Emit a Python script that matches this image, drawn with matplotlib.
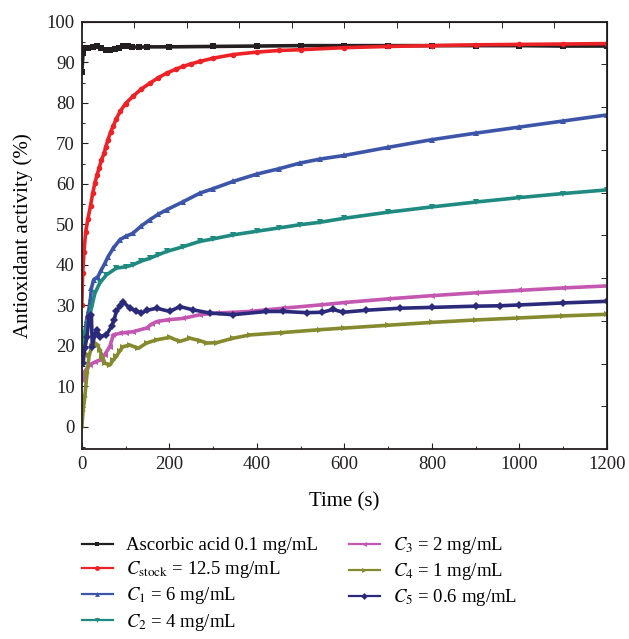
import numpy as np
import matplotlib
matplotlib.use('Agg')
import matplotlib.pyplot as plt
from matplotlib.lines import Line2D

plt.rcParams['font.family'] = ['Liberation Serif', 'DejaVu Serif']
plt.rcParams['mathtext.fontset'] = 'stix'

# data (time in s, activity in %)
t_asc = [0, 3, 8, 15, 25, 35, 45, 55, 65, 75, 85, 95, 105, 115, 130, 150, 200, 300,
         400, 500, 600, 700, 800, 900, 1000, 1100, 1200]
v_asc = [87.5, 92.3, 93.4, 93.6, 93.8, 93.9, 93.5, 93.1, 93.0, 93.2, 93.6, 93.9, 94.0,
         93.8, 93.7, 93.8, 93.8, 93.9, 94.0, 94.1, 94.1, 94.1, 94.1, 94.1, 94.1, 94.0, 94.0]

t_stock = [0, 2, 5, 9, 14, 20, 25, 30, 35, 40, 45, 51, 55, 60, 66, 72, 79, 88, 100, 117,
           135, 155, 175, 194, 215, 232, 250, 270, 300, 346, 400, 450, 500, 600, 700,
           800, 900, 1000, 1100, 1200]
v_stock = [30.0, 38.0, 43.2, 48.2, 51.3, 54.6, 57.7, 60.2, 62.2, 64.0, 65.9, 67.5, 69.2,
           70.9, 72.8, 74.3, 76.1, 77.9, 79.8, 81.6, 83.3, 84.8, 86.2, 87.3, 88.3, 89.0,
           89.6, 90.2, 91.0, 91.9, 92.5, 92.9, 93.1, 93.6, 93.9, 94.1, 94.3, 94.4, 94.5, 94.6]

t_c1 = [0, 4, 7, 11, 16, 20, 22, 27, 37, 45, 53, 60, 72, 87, 100, 117, 135, 155, 175,
        194, 232, 270, 300, 346, 400, 450, 498, 544, 600, 700, 800, 900, 1000, 1100, 1200]
v_c1 = [20.5, 22.5, 23.5, 26.4, 28.9, 31.8, 34.2, 36.3, 37.1, 38.8, 40.4, 42.0, 44.1,
        46.2, 47.0, 47.8, 49.5, 51.1, 52.5, 53.6, 55.6, 57.7, 58.8, 60.6, 62.4, 63.7,
        65.1, 66.1, 67.0, 69.0, 70.9, 72.5, 74.0, 75.5, 77.0]

t_c2 = [0, 3, 7, 14, 22, 30, 41, 56, 79, 100, 117, 135, 155, 175, 194, 232, 270, 300,
        346, 400, 450, 498, 544, 600, 700, 800, 900, 1000, 1100, 1200]
v_c2 = [17.0, 19.8, 23.2, 25.6, 29.3, 33.0, 35.5, 37.5, 39.2, 39.5, 40.0, 40.9, 41.6,
        42.5, 43.3, 44.5, 45.8, 46.4, 47.4, 48.3, 49.1, 49.9, 50.5, 51.5, 53.0, 54.3,
        55.5, 56.6, 57.6, 58.5]

t_c3 = [0, 2, 7, 18, 30, 41, 52, 64, 72, 87, 100, 117, 148, 160, 171, 194, 232, 270,
        308, 384, 460, 544, 600, 700, 800, 900, 1000, 1100, 1200]
v_c3 = [11.5, 12.0, 13.7, 15.3, 16.0, 16.5, 17.8, 19.8, 22.7, 23.1, 23.3, 23.5, 24.4,
        25.4, 26.0, 26.4, 26.8, 27.7, 28.1, 28.5, 29.3, 30.1, 30.7, 31.6, 32.4, 33.1,
        33.7, 34.3, 34.8]

t_c4 = [0, 3, 7, 12, 17, 24, 30, 36, 41, 47, 53, 64, 72, 79, 87, 94, 110, 129, 148, 171,
        201, 224, 247, 270, 285, 308, 346, 384, 460, 544, 600, 700, 800, 900, 1000, 1100, 1200]
v_c4 = [0.0, 4.0, 7.5, 13.2, 17.8, 20.0, 20.7, 20.2, 19.0, 17.3, 15.7, 15.3, 16.5, 17.4,
        18.8, 19.8, 20.2, 19.4, 20.7, 21.5, 22.1, 21.1, 21.9, 21.3, 20.7, 20.8, 21.9, 22.7,
        23.3, 24.0, 24.4, 25.1, 25.8, 26.4, 26.9, 27.4, 27.8]

t_c5 = [0, 3, 7, 12, 17, 22, 24, 29, 34, 41, 56, 68, 74, 79, 87, 94, 110, 125, 136, 150,
        171, 201, 224, 254, 293, 346, 422, 460, 514, 550, 574, 597, 650, 727, 800, 900,
        955, 1000, 1100, 1200]
v_c5 = [15.5, 15.7, 19.4, 22.3, 27.2, 27.7, 19.8, 22.5, 24.0, 22.3, 22.7, 24.8, 26.5,
        28.5, 29.8, 30.9, 29.3, 28.6, 28.1, 28.8, 29.3, 28.5, 29.7, 28.9, 28.1, 27.7,
        28.5, 28.5, 28.2, 28.3, 29.0, 28.3, 28.8, 29.3, 29.5, 29.8, 29.9, 30.1, 30.6, 31.0]

labels = ['Ascorbic acid 0.1 mg/mL',
          r'$C_{\mathrm{stock}}$ = 12.5 mg/mL',
          r'$C_1$ = 6 mg/mL',
          r'$C_2$ = 4 mg/mL',
          r'$C_3$ = 2 mg/mL',
          r'$C_4$ = 1 mg/mL',
          r'$C_5$ = 0.6 mg/mL']
series = [(t_asc, v_asc), (t_stock, v_stock), (t_c1, v_c1), (t_c2, v_c2),
          (t_c3, v_c3), (t_c4, v_c4), (t_c5, v_c5)]
colors = ['#231f20', '#ec2227', '#3d55a8', '#1e8a80', '#c457b0', '#868a2e', '#2b2a7a']
markers = ['s', 'o', '^', 'v', '<', '>', 'D']

fig = plt.figure(figsize=(6.29, 6.39), dpi=100)
ax = fig.add_axes([0.130, 0.297, 0.835, 0.669])

for (t, v), c, m in zip(series, colors, markers):
    ax.plot(t, v, color=c, lw=2.6, marker=m, ms=4, mew=0, solid_joinstyle='round')

ax.set_xlim(0, 1200)
ax.set_ylim(-5.5, 100)
ax.set_xticks(np.arange(0, 1201, 200))
ax.set_xticks(np.arange(0, 1201, 100), minor=True)
ax.set_yticks(np.arange(0, 101, 10))
ax.set_yticks(np.arange(-5, 101, 5), minor=True)
ax.tick_params(direction='in', labelsize=13.5, length=4, width=0.8, colors='#231f20', pad=5)
ax.tick_params(which='minor', direction='in', length=2.5, width=0.6)
for s in ax.spines.values():
    s.set_linewidth(1.3)
    s.set_color('#231f20')

top = ax.secondary_xaxis('top')
top.set_xticks(np.linspace(0, 1200, 11))
top.set_xticklabels([])
top.tick_params(direction='in', length=4, width=0.6)
right = ax.secondary_yaxis('right')
right.set_yticks(np.linspace(-5.5, 100, 11))
right.set_yticklabels([])
right.tick_params(direction='in', length=4, width=0.6)

ax.set_xlabel('Time (s)', fontsize=15, labelpad=14)
ax.set_ylabel('Antioxidant activity (%)', fontsize=15, labelpad=10)

handles = [Line2D([], [], color=c, lw=1.6, marker=m, ms=3.5, mew=0)
           for c, m in zip(colors, markers)]
fig.legend(handles, labels, loc='upper left', bbox_to_anchor=(0.118, 0.174),
           ncol=2, frameon=False, fontsize=13.5,
           handlelength=1.65, handletextpad=0.7, columnspacing=1.65, labelspacing=0.27,
           borderaxespad=0.0)

fig.savefig('out.png', dpi=100)
